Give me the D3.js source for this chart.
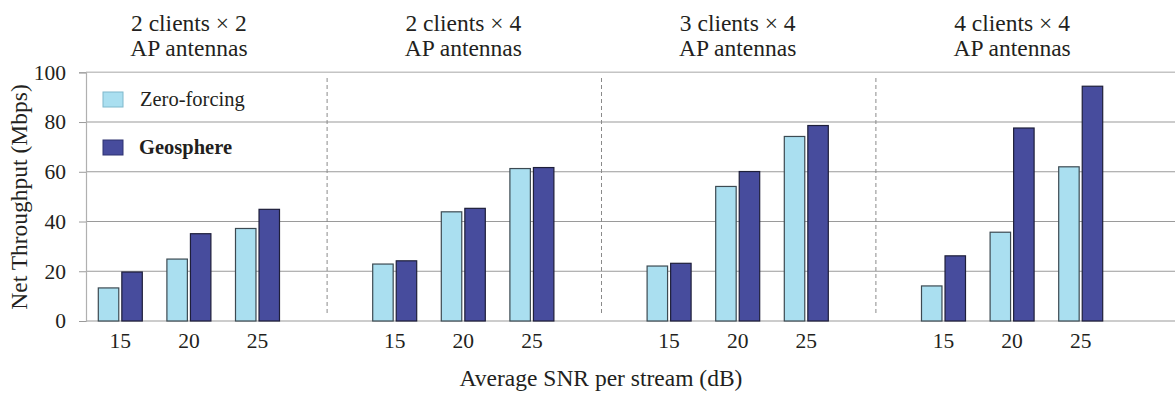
<!DOCTYPE html>
<html>
<head>
<meta charset="utf-8">
<script src="https://cdn.jsdelivr.net/npm/d3@7/dist/d3.min.js"></script>
<style>
  html, body { margin: 0; padding: 0; background: #fff; }
  svg { display: block; }
  svg text { font-family: "Liberation Serif", "Times New Roman", serif; }
</style>
</head>
<body>
<svg id="chart" width="1175" height="393"></svg>
<script>
// Antenna configurations (panels) and SNR points per panel
const configsLine1 = ["2 clients \u00d7 2", "2 clients \u00d7 4", "3 clients \u00d7 4", "4 clients \u00d7 4"];
const configsLine2 = ["AP antennas", "AP antennas", "AP antennas", "AP antennas"];
const snrLabels = ["15", "20", "25"];
const seriesNames = ["Zero-forcing", "Geosphere"];

// Net throughput (Mbps), ordered panel by panel, SNR 15/20/25
const zeroForcing = [13.3, 24.9, 37.2, 22.9, 43.9, 61.3, 22.1, 54.1, 74.2, 14.1, 35.7, 62.0];
const geosphere   = [19.7, 35.1, 44.9, 24.2, 45.3, 61.7, 23.2, 60.1, 78.6, 26.2, 77.6, 94.4];

const yTicks = [0, 20, 40, 60, 80, 100];

const colors = { "Zero-forcing": "#aadff0", "Geosphere": "#474c9d" };
const strokes = { "Zero-forcing": "#3c4a52", "Geosphere": "#1e1f3a" };
const serif = "'Liberation Serif', 'Times New Roman', serif";

const svg = d3.select("#chart");
const W = 1175;
const plotLeft = 86, plotTop = 72.3, plotBottom = 321;
const slotW = 68.6;

// Each panel occupies four slots: three SNR points plus an empty separator slot
const slots = d3.range(16);
const x = d3.scaleBand().domain(slots).range([plotLeft, plotLeft + 16 * slotW]).padding(0);
const inner = d3.scaleBand().domain(seriesNames).range([-22, 22]).paddingInner(0.13);
const y = d3.scaleLinear().domain([0, 100]).range([plotBottom, plotTop]);

const slotOf = i => Math.floor(i / 3) * 4 + (i % 3);
const centerOf = s => x(s) + x.bandwidth() / 2;

// Horizontal gridlines
svg.append("g")
  .selectAll("line")
  .data(yTicks)
  .join("line")
  .attr("x1", plotLeft).attr("x2", W)
  .attr("y1", d => y(d)).attr("y2", d => y(d))
  .attr("stroke", d => d === 100 ? "#c4c4c4" : "#9a9a9a")
  .attr("stroke-width", d => d === 100 ? 1.6 : 1.1);

// Y axis
const yAxis = d3.axisLeft(y).tickValues(yTicks).tickSize(7).tickPadding(13);
const gy = svg.append("g").attr("transform", `translate(${plotLeft},0)`).call(yAxis);
gy.attr("font-family", serif).attr("font-size", 21.5);
gy.select(".domain").attr("stroke", "#b0b0b0").attr("stroke-width", 1.2);
gy.selectAll(".tick line").attr("stroke", "#9a9a9a");
gy.selectAll(".tick text").attr("fill", "#231f20");

// Dashed separators between panels
svg.append("g")
  .selectAll("line")
  .data([3, 7, 11])
  .join("line")
  .attr("x1", d => centerOf(d) + 1).attr("x2", d => centerOf(d) + 1)
  .attr("y1", 78).attr("y2", 315)
  .attr("stroke", "#8a8a8a")
  .attr("stroke-width", 1)
  .attr("stroke-dasharray", "4,3");

// Bars
const rows = [];
zeroForcing.forEach((v, i) => rows.push({ series: "Zero-forcing", i, v }));
geosphere.forEach((v, i) => rows.push({ series: "Geosphere", i, v }));

svg.append("g")
  .selectAll("rect")
  .data(rows)
  .join("rect")
  .attr("x", d => centerOf(slotOf(d.i)) + inner(d.series))
  .attr("width", inner.bandwidth())
  .attr("y", d => y(d.v))
  .attr("height", d => y(0) - y(d.v))
  .attr("fill", d => colors[d.series])
  .attr("stroke", d => strokes[d.series])
  .attr("stroke-width", 1.2);

// SNR tick labels under each group
const tickRows = [];
for (let p = 0; p < 4; p++) snrLabels.forEach((s, k) => tickRows.push({ slot: p * 4 + k, label: s }));
svg.append("g")
  .selectAll("text")
  .data(tickRows)
  .join("text")
  .attr("x", d => centerOf(d.slot))
  .attr("y", 348)
  .attr("text-anchor", "middle")
  .attr("font-family", serif)
  .attr("font-size", 21.5)
  .attr("fill", "#231f20")
  .text(d => d.label);

// Panel titles
const titles = svg.append("g").selectAll("g").data(configsLine1).join("g");
titles.append("text")
  .attr("x", (d, p) => centerOf(p * 4 + 1))
  .attr("y", 31)
  .attr("text-anchor", "middle")
  .attr("font-family", serif)
  .attr("font-size", 23.5)
  .attr("fill", "#231f20")
  .text(d => d);
titles.append("text")
  .attr("x", (d, p) => centerOf(p * 4 + 1))
  .attr("y", 56)
  .attr("text-anchor", "middle")
  .attr("font-family", serif)
  .attr("font-size", 23.5)
  .attr("fill", "#231f20")
  .text((d, p) => configsLine2[p]);

// Axis titles
svg.append("text")
  .attr("transform", "translate(27,197) rotate(-90)")
  .attr("text-anchor", "middle")
  .attr("font-family", serif)
  .attr("font-size", 23.5)
  .attr("fill", "#231f20")
  .text("Net Throughput (Mbps)");

svg.append("text")
  .attr("x", 601)
  .attr("y", 386)
  .attr("text-anchor", "middle")
  .attr("font-family", serif)
  .attr("font-size", 23.5)
  .attr("fill", "#231f20")
  .text("Average SNR per stream (dB)");

// Legend
const legend = svg.append("g");
const legendY = [92, 140];
seriesNames.forEach((name, k) => {
  legend.append("rect")
    .attr("x", 103).attr("y", legendY[k])
    .attr("width", 20).attr("height", 15)
    .attr("fill", colors[name])
    .attr("stroke", k === 0 ? "#7fb8cc" : "#2e3270")
    .attr("stroke-width", 1);
  legend.append("text")
    .attr("x", k === 0 ? 140 : 139)
    .attr("y", legendY[k] + 14)
    .attr("font-family", serif)
    .attr("font-size", 20.5)
    .attr("font-weight", k === 1 ? "bold" : "normal")
    .attr("fill", "#231f20")
    .text(name);
});
</script>
</body>
</html>
